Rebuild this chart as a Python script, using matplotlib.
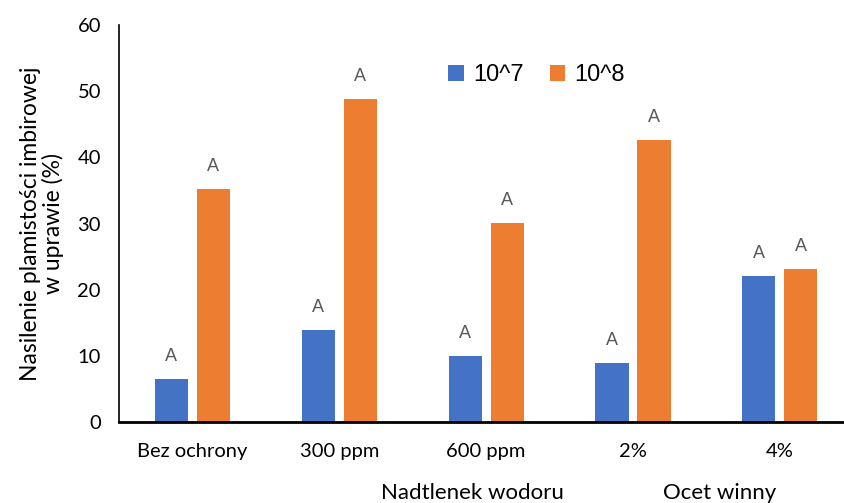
import numpy as np
from matplotlib import pyplot as plt

categories = ['Bez ochrony', '300 ppm', '600 ppm', '2%', '4%']
series_names = ['10^7', '10^8']
values_1e7 = [6.5, 13.9, 10.0, 8.9, 22.1]
values_1e8 = [35.3, 48.8, 30.1, 42.6, 23.1]
letters_1e7 = ['A', 'A', 'A', 'A', 'A']
letters_1e8 = ['A', 'A', 'A', 'A', 'A']
group_labels = ['Nadtlenek wodoru', 'Ocet winny']
group_label_x = [1.905, 3.59]

BLUE = '#4472c4'
ORANGE = '#ed7d31'

fig = plt.figure(figsize=(8.44, 5.03), dpi=100)
ax = fig.add_axes([0.141, 0.161, 0.870, 0.789])

x = np.arange(len(categories))
w = 0.225
off = 0.143
ax.bar(x - off, values_1e7, w, color=BLUE, label=series_names[0])
ax.bar(x + off, values_1e8, w, color=ORANGE, label=series_names[1])

for xi, v, t in zip(x - off, values_1e7, letters_1e7):
    ax.annotate(t, (xi, v), xytext=(0, 10), textcoords='offset points',
                ha='center', va='bottom', fontsize=13, color='#595959',
                family='Liberation Sans')
for xi, v, t in zip(x + off, values_1e8, letters_1e8):
    ax.annotate(t, (xi, v), xytext=(0, 10), textcoords='offset points',
                ha='center', va='bottom', fontsize=13, color='#595959',
                family='Liberation Sans')

ax.set_xlim(-0.5, len(categories) - 0.5)
ax.set_ylim(0, 60)
ax.set_yticks(range(0, 61, 10))
ax.set_xticks(x)
ax.set_xticklabels(categories)
ax.tick_params(axis='both', length=0, labelsize=14.5)
ax.tick_params(axis='y', pad=13)
ax.tick_params(axis='x', pad=15)
for lab in ax.get_xticklabels() + ax.get_yticklabels():
    lab.set_family('Lato')

ax.spines['top'].set_visible(False)
ax.spines['right'].set_visible(False)
ax.spines['left'].set_linewidth(1.2)
ax.spines['bottom'].set_linewidth(2)

ax.set_ylabel('Nasilenie plamistości imbirowej\nw uprawie (%)', fontsize=16.5,
              family='Lato', labelpad=10, linespacing=1.0)

for gx, gl in zip(group_label_x, group_labels):
    ax.text(gx, -0.18, gl, transform=ax.get_xaxis_transform(), ha='center',
            va='center', fontsize=16, family='Lato')

fig.legend(loc='center', bbox_to_anchor=(0.636, 0.851), ncol=2, frameon=False,
           handlelength=0.65, handleheight=0.65, columnspacing=1.1,
           handletextpad=0.4, prop={'family': 'Liberation Sans', 'size': 17})

fig.savefig('out.png', dpi=100)
